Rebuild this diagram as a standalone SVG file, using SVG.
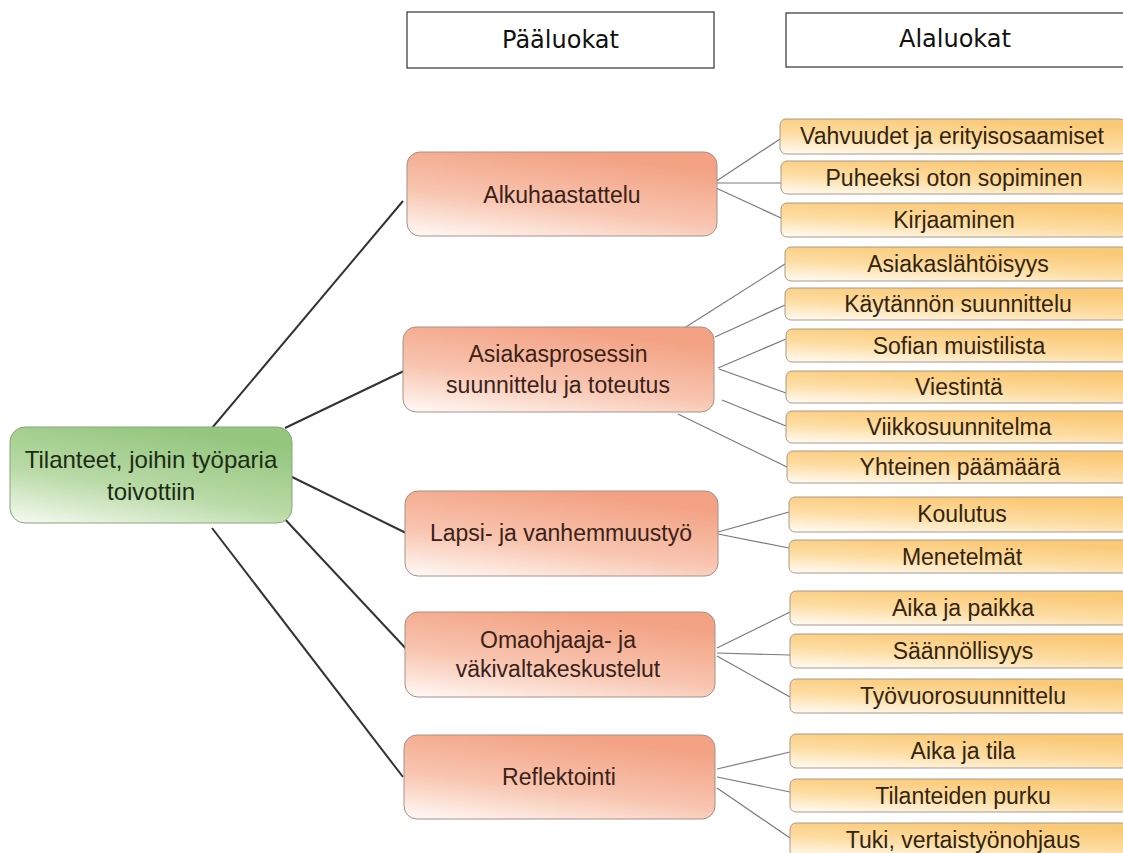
<svg xmlns="http://www.w3.org/2000/svg" width="1123" height="853" viewBox="0 0 1123 853">
<defs>
<linearGradient id="gGreen" x1="0.05" y1="1" x2="0.55" y2="0">
<stop offset="0" stop-color="#f4f9f0"/>
<stop offset="0.45" stop-color="#b9daa6"/>
<stop offset="1" stop-color="#94c67e"/>
</linearGradient>
<linearGradient id="gSalmon" x1="0.05" y1="1" x2="0.5" y2="0">
<stop offset="0" stop-color="#fff8f4"/>
<stop offset="0.45" stop-color="#f8c5b0"/>
<stop offset="1" stop-color="#f3a283"/>
</linearGradient>
<linearGradient id="gYellow" x1="0" y1="1" x2="0.45" y2="0">
<stop offset="0" stop-color="#fffcf5"/>
<stop offset="0.5" stop-color="#fddda3"/>
<stop offset="1" stop-color="#fbca78"/>
</linearGradient>
<style>
.hdr{fill:#fff;stroke:#333;stroke-width:1.2}
.hdrt{font-family:"DejaVu Sans",sans-serif;font-size:24px;fill:#111;text-anchor:middle}
.root{fill:url(#gGreen);stroke:#88a878;stroke-width:1}
.main{fill:url(#gSalmon);stroke:#a89088;stroke-width:1}
.leaf{fill:url(#gYellow);stroke:#a8998a;stroke-width:1}
.t{font-family:"Liberation Sans",Arial,sans-serif;text-anchor:middle}
.rt{font-size:24px;fill:#1c2c14}
.mt{font-size:23px;fill:#3a2218}
.lt{font-size:23px;fill:#33240e}
.c1{stroke:#333;stroke-width:2;fill:none}
.c2{stroke:#7a7a7a;stroke-width:1.2;fill:none}
</style>
</defs>
<rect width="1123" height="853" fill="#fff"/>

<g id="connectors">
<line class="c1" x1="212" y1="428" x2="403" y2="201"/>
<line class="c1" x1="285" y1="428" x2="406" y2="370"/>
<line class="c1" x1="288" y1="475" x2="406" y2="533"/>
<line class="c1" x1="281" y1="515" x2="410" y2="653"/>
<line class="c1" x1="212" y1="528" x2="403" y2="777"/>

<line class="c2" x1="715" y1="182" x2="780" y2="139"/>
<line class="c2" x1="716" y1="183" x2="781" y2="183"/>
<line class="c2" x1="716" y1="188" x2="781" y2="218"/>

<line class="c2" x1="678" y1="332" x2="785" y2="264"/>
<line class="c2" x1="715" y1="337" x2="785" y2="305"/>
<line class="c2" x1="718" y1="368" x2="786" y2="339"/>
<line class="c2" x1="719" y1="369" x2="786" y2="393"/>
<line class="c2" x1="722" y1="400" x2="786" y2="426"/>
<line class="c2" x1="678" y1="414" x2="787" y2="467"/>

<line class="c2" x1="718" y1="532" x2="789" y2="512"/>
<line class="c2" x1="718" y1="534" x2="789" y2="548"/>

<line class="c2" x1="717" y1="648" x2="790" y2="612"/>
<line class="c2" x1="717" y1="653" x2="790" y2="655"/>
<line class="c2" x1="717" y1="656" x2="790" y2="697"/>

<line class="c2" x1="717" y1="769" x2="790" y2="752"/>
<line class="c2" x1="717" y1="777" x2="790" y2="792"/>
<line class="c2" x1="717" y1="788" x2="790" y2="838"/>
</g>

<g id="hdr-paaluokat">
<rect class="hdr" x="407" y="12" width="307" height="56"/>
<text class="hdrt" x="560.5" y="48">Pääluokat</text>
</g>
<g id="hdr-alaluokat">
<rect class="hdr" x="786" y="13" width="340" height="54"/>
<text class="hdrt" x="955" y="47">Alaluokat</text>
</g>

<g id="root">
<rect class="root" x="10" y="427" width="282" height="96" rx="15"/>
<text class="t rt" x="151" y="468">Tilanteet, joihin työparia</text>
<text class="t rt" x="151" y="500">toivottiin</text>
</g>

<g id="m-alku">
<rect class="main" x="407" y="152" width="310" height="84" rx="13"/>
<text class="t mt" x="562" y="203">Alkuhaastattelu</text>
</g>
<g id="m-asiakas">
<rect class="main" x="403" y="327" width="311" height="85" rx="13"/>
<text class="t mt" x="558" y="362">Asiakasprosessin</text>
<text class="t mt" x="558" y="393">suunnittelu ja toteutus</text>
</g>
<g id="m-lapsi">
<rect class="main" x="405" y="491" width="313" height="85" rx="13"/>
<text class="t mt" x="561" y="541">Lapsi- ja vanhemmuustyö</text>
</g>
<g id="m-omaohjaaja">
<rect class="main" x="405" y="612" width="310" height="85" rx="13"/>
<text class="t mt" x="558" y="648">Omaohjaaja- ja</text>
<text class="t mt" x="558" y="677">väkivaltakeskustelut</text>
</g>
<g id="m-reflektointi">
<rect class="main" x="404" y="735" width="311" height="84" rx="13"/>
<text class="t mt" x="559" y="785">Reflektointi</text>
</g>

<g id="l1"><rect class="leaf" x="780" y="119" width="346" height="35" rx="6"/><text class="t lt" x="952" y="144">Vahvuudet ja erityisosaamiset</text></g>
<g id="l2"><rect class="leaf" x="781" y="161" width="346" height="33" rx="6"/><text class="t lt" x="954" y="186">Puheeksi oton sopiminen</text></g>
<g id="l3"><rect class="leaf" x="781" y="203" width="346" height="34" rx="6"/><text class="t lt" x="954" y="228">Kirjaaminen</text></g>
<g id="l4"><rect class="leaf" x="785" y="247" width="346" height="34" rx="6"/><text class="t lt" x="958" y="272">Asiakaslähtöisyys</text></g>
<g id="l5"><rect class="leaf" x="785" y="288" width="346" height="32" rx="6"/><text class="t lt" x="958" y="312">Käytännön suunnittelu</text></g>
<g id="l6"><rect class="leaf" x="786" y="329" width="346" height="33" rx="6"/><text class="t lt" x="959" y="354">Sofian muistilista</text></g>
<g id="l7"><rect class="leaf" x="786" y="371" width="346" height="32" rx="6"/><text class="t lt" x="959" y="395">Viestintä</text></g>
<g id="l8"><rect class="leaf" x="786" y="411" width="346" height="32" rx="6"/><text class="t lt" x="959" y="435">Viikkosuunnitelma</text></g>
<g id="l9"><rect class="leaf" x="787" y="451" width="346" height="32" rx="6"/><text class="t lt" x="960" y="475">Yhteinen päämäärä</text></g>
<g id="l10"><rect class="leaf" x="789" y="497" width="346" height="35" rx="6"/><text class="t lt" x="962" y="522">Koulutus</text></g>
<g id="l11"><rect class="leaf" x="789" y="540" width="346" height="33" rx="6"/><text class="t lt" x="962" y="565">Menetelmät</text></g>
<g id="l12"><rect class="leaf" x="790" y="591" width="346" height="34" rx="6"/><text class="t lt" x="963" y="616">Aika ja paikka</text></g>
<g id="l13"><rect class="leaf" x="790" y="634" width="346" height="34" rx="6"/><text class="t lt" x="963" y="659">Säännöllisyys</text></g>
<g id="l14"><rect class="leaf" x="790" y="679" width="346" height="34" rx="6"/><text class="t lt" x="963" y="704">Työvuorosuunnittelu</text></g>
<g id="l15"><rect class="leaf" x="790" y="734" width="346" height="34" rx="6"/><text class="t lt" x="963" y="759">Aika ja tila</text></g>
<g id="l16"><rect class="leaf" x="790" y="779" width="346" height="33" rx="6"/><text class="t lt" x="963" y="804">Tilanteiden purku</text></g>
<g id="l17"><rect class="leaf" x="790" y="823" width="346" height="34" rx="6"/><text class="t lt" x="963" y="848">Tuki, vertaistyönohjaus</text></g>
</svg>
